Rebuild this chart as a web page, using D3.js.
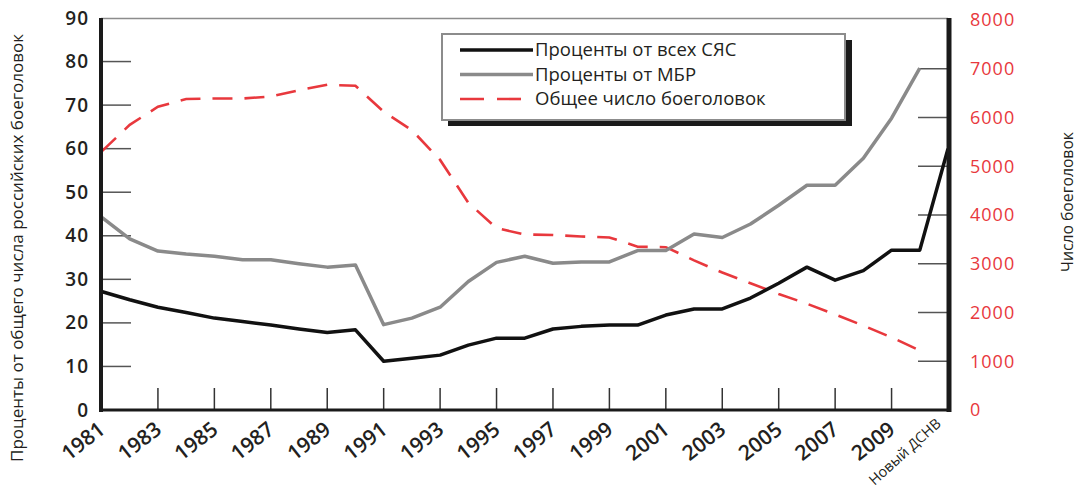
<!DOCTYPE html>
<html>
<head>
<meta charset="utf-8">
<script src="https://cdn.jsdelivr.net/npm/d3@7"></script>
<style>
  body { margin: 0; background: #fff; }
  svg { display: block; }
  text { font-family: "Open Sans", sans-serif; }
</style>
</head>
<body>
<svg id="chart" width="1078" height="494"></svg>
<script>
// categories: 1981..2010 plus the new treaty
const years = d3.range(1981, 2011).map(String).concat(["Новый ДСНВ"]);
const tickLabels = d3.range(1981, 2010, 2).map(String).concat(["Новый ДСНВ"]);

// % of all strategic nuclear forces
const pctAll = [27.2, 25.3, 23.6, 22.4, 21.1, 20.3, 19.5, 18.6, 17.8, 18.4,
                11.2, 11.9, 12.6, 14.9, 16.5, 16.5, 18.6, 19.2, 19.5, 19.5,
                21.8, 23.2, 23.2, 25.7, 29.1, 32.8, 29.8, 32.0, 36.7, 36.7, 60.0];
// % of ICBMs
const pctIcbm = [44.3, 39.3, 36.5, 35.8, 35.3, 34.5, 34.5, 33.6, 32.8, 33.3,
                 19.6, 21.1, 23.6, 29.5, 33.9, 35.3, 33.7, 34.0, 34.0, 36.6,
                 36.6, 40.4, 39.6, 42.7, 47.0, 51.6, 51.6, 57.8, 67.0, 78.5];
// total warheads
const warheads = [5300, 5850, 6220, 6380, 6390, 6390, 6430, 6560, 6670, 6650,
                  6120, 5740, 5130, 4250, 3730, 3600, 3590, 3560, 3540, 3350,
                  3340, 3070, 2820, 2600, 2380, 2180, 1960, 1730, 1490, 1220];

const leftTicks = d3.range(0, 91, 10);
const rightTicks = d3.range(0, 8001, 1000);

const svg = d3.select("#chart");

const x = d3.scalePoint().domain(years).range([101.5, 948]);
const yL = d3.scaleLinear().domain([0, 90]).range([410, 18]);
const yR = d3.scaleLinear().domain([0, 8000]).range([410, 20]);

const red = "#e8383d";
const ink = "#231f20";
const NEW = "Новый ДСНВ";

// top frame line
svg.append("line")
    .attr("x1", 101).attr("x2", 948).attr("y1", 18.5).attr("y2", 18.5)
    .attr("stroke", "#8c8c8c").attr("stroke-width", 1.5);

// left axis: ticks inward, labels outside
const left = svg.append("g").attr("transform", "translate(101,0)")
    .call(d3.axisLeft(yL).tickValues(leftTicks).tickSize(0).tickPadding(12));
left.select(".domain").remove();
left.selectAll("text")
    .attr("font-size", 19).attr("font-weight", 600).attr("letter-spacing", 1)
    .attr("fill", ink).attr("font-family", "Open Sans, sans-serif");
svg.append("g").selectAll("line")
    .data(leftTicks.filter(d => d > 0 && d < 90))
    .enter().append("line")
    .attr("x1", 101).attr("x2", 131)
    .attr("y1", d => yL(d)).attr("y2", d => yL(d))
    .attr("stroke", "#555").attr("stroke-width", 1.5);

// right axis
const right = svg.append("g").attr("transform", "translate(948,0)")
    .call(d3.axisRight(yR).tickValues(rightTicks).tickFormat(d3.format("d"))
        .tickSize(0).tickPadding(22));
right.select(".domain").remove();
right.selectAll("text")
    .attr("font-size", 18).attr("letter-spacing", 1)
    .attr("fill", red).attr("font-family", "Open Sans, sans-serif");
svg.append("g").selectAll("line")
    .data(rightTicks.filter(d => d > 0 && d < 8000))
    .enter().append("line")
    .attr("x1", 918).attr("x2", 948)
    .attr("y1", d => yR(d)).attr("y2", d => yR(d))
    .attr("stroke", "#555").attr("stroke-width", 1.5);

// bottom ticks pointing up
svg.append("g").selectAll("line")
    .data(tickLabels.slice(1, -1))
    .enter().append("line")
    .attr("x1", d => x(d)).attr("x2", d => x(d))
    .attr("y1", 388).attr("y2", 410)
    .attr("stroke", "#333").attr("stroke-width", 1.5);

// rotated x labels
svg.append("g").selectAll("text")
    .data(tickLabels)
    .enter().append("text")
    .attr("transform", d => d === NEW
        ? `translate(${x(d) - 6},425) rotate(-42)`
        : `translate(${x(d) + 5},432) rotate(-38)`)
    .attr("text-anchor", "end")
    .attr("font-size", d => d === NEW ? 14.5 : 21)
    .attr("font-weight", d => d === NEW ? 400 : 600)
    .attr("fill", ink)
    .text(d => d);

// series
const lineL = d3.line().x((d, i) => x(years[i])).y(d => yL(d));
const lineR = d3.line().x((d, i) => x(years[i])).y(d => yR(d));

svg.append("path").datum(warheads)
    .attr("d", lineR).attr("fill", "none")
    .attr("stroke", red).attr("stroke-width", 2.6)
    .attr("stroke-dasharray", "20,12");

svg.append("path").datum(pctIcbm)
    .attr("d", lineL).attr("fill", "none")
    .attr("stroke", "#8a8a8a").attr("stroke-width", 3.5)
    .attr("stroke-linejoin", "round");

svg.append("path").datum(pctAll)
    .attr("d", lineL).attr("fill", "none")
    .attr("stroke", "#111").attr("stroke-width", 3.5)
    .attr("stroke-linejoin", "round");

// frame axes (thick)
svg.append("line").attr("x1", 101).attr("x2", 101).attr("y1", 18).attr("y2", 412)
    .attr("stroke", "#1a1a1a").attr("stroke-width", 4);
svg.append("line").attr("x1", 949).attr("x2", 949).attr("y1", 18).attr("y2", 412)
    .attr("stroke", "#1a1a1a").attr("stroke-width", 5);
svg.append("line").attr("x1", 99).attr("x2", 951).attr("y1", 410).attr("y2", 410)
    .attr("stroke", "#1a1a1a").attr("stroke-width", 3);

// axis titles
svg.append("text")
    .attr("transform", "translate(23,248) rotate(-90)")
    .attr("text-anchor", "middle")
    .attr("font-family", "Roboto, sans-serif")
    .attr("font-size", 17)
    .attr("fill", ink)
    .attr("textLength", 428).attr("lengthAdjust", "spacingAndGlyphs")
    .text("Проценты от общего числа российских боеголовок");

svg.append("text")
    .attr("transform", "translate(1073,202) rotate(-90)")
    .attr("text-anchor", "middle")
    .attr("font-family", "Roboto, sans-serif")
    .attr("font-size", 17)
    .attr("fill", ink)
    .attr("textLength", 140).attr("lengthAdjust", "spacingAndGlyphs")
    .text("Число боеголовок");

// legend
const legendItems = ["Проценты от всех СЯС", "Проценты от МБР", "Общее число боеголовок"];
const legendColors = ["#111", "#8a8a8a", red];
const legend = svg.append("g");
legend.append("rect")
    .attr("x", 448).attr("y", 40).attr("width", 404).attr("height", 86)
    .attr("fill", "#1a1a1a");
legend.append("rect")
    .attr("x", 442).attr("y", 34).attr("width", 403).attr("height", 86)
    .attr("fill", "#fff").attr("stroke", "#8c8c8c").attr("stroke-width", 2);
legendItems.forEach((name, i) => {
  const ly = 50 + i * 24.5;
  legend.append("line")
      .attr("x1", 460).attr("x2", i === 2 ? 523 : 533)
      .attr("y1", ly).attr("y2", ly)
      .attr("stroke", legendColors[i])
      .attr("stroke-width", i === 2 ? 2.6 : 3.5)
      .attr("stroke-dasharray", i === 2 ? "24,13" : null);
  legend.append("text")
      .attr("x", 535).attr("y", ly).attr("dy", "0.35em")
      .attr("font-size", 18.5).attr("fill", ink)
      .text(name);
});
</script>
</body>
</html>
